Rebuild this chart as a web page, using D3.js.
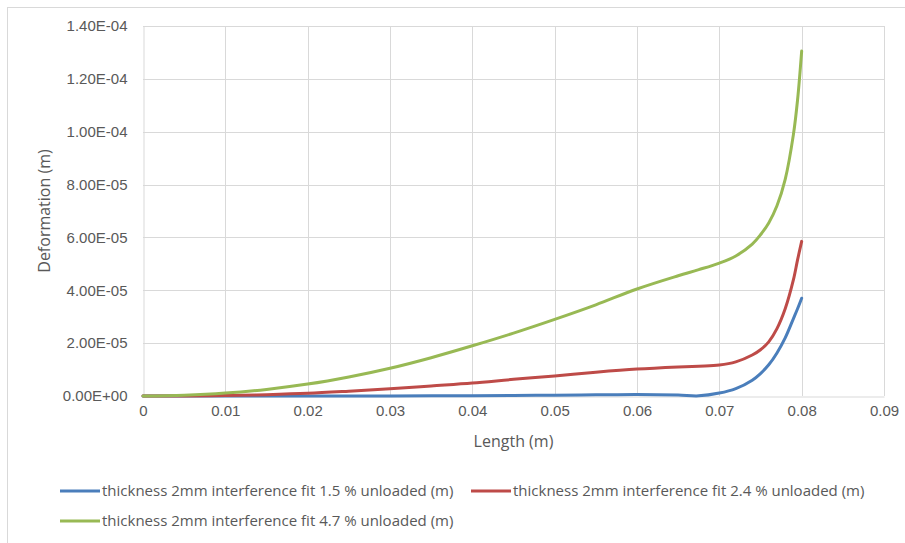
<!DOCTYPE html>
<html>
<head>
<meta charset="utf-8">
<script src="https://cdn.jsdelivr.net/npm/d3@7"></script>
<style>
  body { margin: 0; background: #fff; }
  svg { font-family: "Open Sans", "Liberation Sans", sans-serif; }
</style>
</head>
<body>
<svg></svg>
<script>
// length along the part (m)
let lengths = [0, 0.005, 0.01, 0.015, 0.02, 0.025, 0.03, 0.035, 0.04, 0.045, 0.05, 0.055, 0.06, 0.065, 0.0675,
               0.07, 0.072, 0.074, 0.075, 0.076, 0.077, 0.078, 0.079, 0.0795, 0.08]

// deformation in micro-metres (x 1e-6 m)
let fit15 = [0, 0, 0, 0, 0, 0, 0, 0.05, 0.1, 0.2, 0.3, 0.45, 0.6, 0.35, 0.05,
             1.1, 2.8, 6, 8.5, 11.8, 16.3, 22, 29.3, 33, 37]
let fit24 = [0, 0, 0.15, 0.5, 1.0, 1.8, 2.7, 3.8, 4.9, 6.3, 7.6, 9, 10.2, 11, 11.3,
             11.7, 12.9, 15.5, 17.5, 20.5, 25.5, 33, 44, 51.5, 58.5]
let fit47 = [0, 0.3, 1.1, 2.5, 4.5, 7.2, 10.5, 14.5, 19, 23.8, 29, 34.5, 40.5, 45.5, 47.8,
             50.3, 53, 57.5, 61, 65.5, 72, 82, 99, 112, 130.5]

let seriesNames = [
    'thickness 2mm interference fit 1.5 % unloaded (m)',
    'thickness 2mm interference fit 2.4 % unloaded (m)',
    'thickness 2mm interference fit 4.7 % unloaded (m)'
]
let seriesColors = ['#4a7ebb', '#be4b48', '#98b954']

let xTicks = [0, 0.01, 0.02, 0.03, 0.04, 0.05, 0.06, 0.07, 0.08, 0.09]
let yTicks = [0, 2e-5, 4e-5, 6e-5, 8e-5, 1e-4, 1.2e-4, 1.4e-4]

let width = 905
let height = 543
let plotLeft = 143, plotRight = 884, plotTop = 26, plotBottom = 396

let svg = d3.select('svg').attr('width', width).attr('height', height)

// chart frame
svg.append('rect')
   .attr('x', 7.5).attr('y', 7.5)
   .attr('width', 905).attr('height', 560)
   .attr('fill', 'none').attr('stroke', '#d9d9d9')

let xScale = d3.scaleLinear().domain([0, 0.09]).range([plotLeft, plotRight])
let yScale = d3.scaleLinear().domain([0, 1.4e-4]).range([plotBottom, plotTop])

// gridlines
svg.append('g')
   .selectAll('line')
   .data(xTicks.slice(1))
   .enter().append('line')
   .attr('x1', d => Math.round(xScale(d)) + 0.5).attr('x2', d => Math.round(xScale(d)) + 0.5)
   .attr('y1', plotTop).attr('y2', plotBottom)
   .attr('stroke', '#d9d9d9')

svg.append('g')
   .selectAll('line')
   .data(yTicks.slice(1))
   .enter().append('line')
   .attr('x1', plotLeft).attr('x2', plotRight)
   .attr('y1', d => Math.round(yScale(d)) + 0.5).attr('y2', d => Math.round(yScale(d)) + 0.5)
   .attr('stroke', '#d9d9d9')

// axes
let xAxis = d3.axisBottom(xScale).tickValues(xTicks).tickSize(0).tickPadding(9)
    .tickFormat(d => d === 0 ? '0' : d3.format('.2f')(d))
let xg = svg.append('g')
   .attr('transform', 'translate(0,' + (plotBottom + 0.5) + ')')
   .call(xAxis)
xg.select('.domain').attr('stroke', '#d9d9d9')
xg.selectAll('text').attr('fill', '#595959').style('font-size', '15px').style('font-family', 'inherit')

let yAxis = d3.axisLeft(yScale).tickValues(yTicks).tickSize(0).tickPadding(16)
    .tickFormat(d => d === 0 ? '0.00E+00' : d.toExponential(2).toUpperCase().replace(/E-(\d)$/, 'E-0$1'))
let yg = svg.append('g')
   .attr('transform', 'translate(' + (plotLeft + 0.5) + ',0)')
   .call(yAxis)
yg.select('.domain').attr('stroke', '#d9d9d9')
yg.selectAll('text').attr('fill', '#595959').style('font-size', '15px').style('font-family', 'inherit')

// axis titles
svg.append('text')
   .attr('x', (plotLeft + plotRight) / 2).attr('y', 447)
   .attr('text-anchor', 'middle')
   .attr('fill', '#595959').style('font-size', '16px')
   .text('Length (m)')

svg.append('text')
   .attr('transform', 'translate(50,' + (plotBottom + plotTop) / 2 + ') rotate(-90)')
   .attr('text-anchor', 'middle')
   .attr('fill', '#595959').style('font-size', '16px')
   .text('Deformation (m)')

// lines
let allSeries = [fit15, fit24, fit47]
let line = d3.line()
    .x((d, i) => xScale(lengths[i]))
    .y(d => yScale(d * 1e-6))
    .curve(d3.curveCatmullRom.alpha(0.5))

svg.append('g')
   .selectAll('path')
   .data(allSeries)
   .enter().append('path')
   .attr('d', d => line(d))
   .attr('fill', 'none')
   .attr('stroke', (d, i) => seriesColors[i])
   .attr('stroke-width', 3)
   .attr('stroke-linecap', 'round')
   .attr('stroke-linejoin', 'round')

// legend
let legendPos = [[60, 491], [471, 491], [60, 521]]
let legend = svg.append('g')
   .selectAll('g')
   .data(seriesNames)
   .enter().append('g')
   .attr('transform', (d, i) => 'translate(' + legendPos[i][0] + ',' + legendPos[i][1] + ')')

legend.append('line')
   .attr('x1', 0).attr('x2', 40)
   .attr('stroke', (d, i) => seriesColors[i])
   .attr('stroke-width', 3)

legend.append('text')
   .attr('x', 42).attr('y', 5)
   .attr('fill', '#595959').style('font-size', '15px')
   .text(d => d)
</script>
</body>
</html>
